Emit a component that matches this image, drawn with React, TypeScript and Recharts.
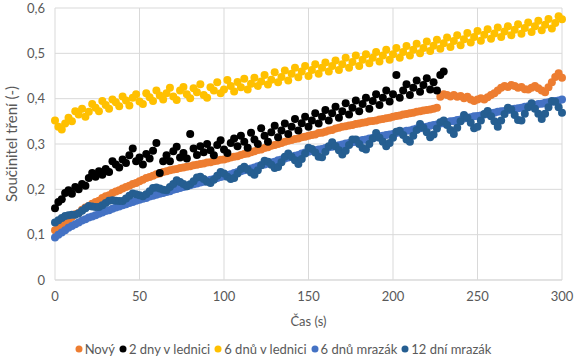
import { ScatterChart, Scatter, XAxis, YAxis, CartesianGrid, Legend } from "recharts";

// sampling times (s)
const time = [
  0, 2, 4, 6, 8, 10, 12, 14, 16, 18, 20, 22, 24, 26, 28, 30, 32, 34, 36, 38,
  40, 42, 44, 46, 48, 50, 52, 54, 56, 58, 60, 62, 64, 66, 68, 70, 72, 74, 76, 78,
  80, 82, 84, 86, 88, 90, 92, 94, 96, 98, 100, 102, 104, 106, 108, 110, 112, 114, 116, 118,
  120, 122, 124, 126, 128, 130, 132, 134, 136, 138, 140, 142, 144, 146, 148, 150, 152, 154, 156, 158,
  160, 162, 164, 166, 168, 170, 172, 174, 176, 178, 180, 182, 184, 186, 188, 190, 192, 194, 196, 198,
  200, 202, 204, 206, 208, 210, 212, 214, 216, 218, 220, 222, 224, 226, 228, 230, 232, 234, 236, 238,
  240, 242, 244, 246, 248, 250, 252, 254, 256, 258, 260, 262, 264, 266, 268, 270, 272, 274, 276, 278,
  280, 282, 284, 286, 288, 290, 292, 294, 296, 298, 300,
];

const novy = [
  0.110, 0.116, 0.122, 0.128, 0.133, 0.139, 0.145, 0.148, 0.155, 0.160, 0.163, 0.168, 0.172, 0.175, 0.181, 0.185, 0.187, 0.192, 0.195, 0.198,
  0.202, 0.205, 0.208, 0.212, 0.214, 0.218, 0.221, 0.225, 0.227, 0.230, 0.233, 0.235, 0.238, 0.240, 0.242, 0.244, 0.245, 0.247, 0.248, 0.250,
  0.251, 0.253, 0.254, 0.256, 0.257, 0.259, 0.260, 0.262, 0.263, 0.265, 0.266, 0.268, 0.270, 0.272, 0.273, 0.276, 0.278, 0.279, 0.282, 0.284,
  0.287, 0.288, 0.291, 0.293, 0.296, 0.298, 0.300, 0.302, 0.305, 0.307, 0.309, 0.311, 0.312, 0.315, 0.316, 0.318, 0.320, 0.321, 0.324, 0.325,
  0.327, 0.330, 0.331, 0.334, 0.336, 0.338, 0.339, 0.341, 0.342, 0.344, 0.345, 0.347, 0.348, 0.350, 0.351, 0.352, 0.354, 0.355, 0.357, 0.358,
  0.360, 0.362, 0.363, 0.365, 0.366, 0.368, 0.369, 0.371, 0.372, 0.374, 0.375, 0.376, 0.378, 0.380, 0.404, 0.410, 0.408, 0.405, 0.408, 0.404,
  0.406, 0.401, 0.404, 0.398, 0.395, 0.398, 0.401, 0.398, 0.403, 0.408, 0.412, 0.418, 0.424, 0.428, 0.426, 0.430, 0.428, 0.424, 0.426, 0.421,
  0.420, 0.424, 0.428, 0.423, 0.418, 0.414, 0.425, 0.436, 0.448, 0.456, 0.446,
];

const dvaDnyLednice = [
  0.158, 0.172, 0.178, 0.192, 0.198, 0.190, 0.205, 0.200, 0.212, 0.208, 0.225, 0.236, 0.228, 0.240, 0.232, 0.245, 0.238, 0.262, 0.255, 0.248,
  0.266, 0.258, 0.275, 0.290, 0.262, 0.270, 0.255, 0.278, 0.268, 0.285, 0.302, 0.236, 0.262, 0.275, 0.262, 0.284, 0.294, 0.270, 0.280, 0.268,
  0.322, 0.290, 0.276, 0.295, 0.282, 0.300, 0.286, 0.275, 0.298, 0.308, 0.288, 0.280, 0.302, 0.312, 0.295, 0.318, 0.305, 0.292, 0.325, 0.310,
  0.300, 0.335, 0.318, 0.305, 0.326, 0.340, 0.315, 0.330, 0.345, 0.322, 0.338, 0.355, 0.330, 0.346, 0.360, 0.338, 0.352, 0.368, 0.345, 0.360,
  0.375, 0.352, 0.368, 0.382, 0.358, 0.372, 0.390, 0.365, 0.380, 0.396, 0.372, 0.388, 0.402, 0.378, 0.395, 0.410, 0.386, 0.402, 0.418, 0.394,
  0.410, 0.452, 0.402, 0.418, 0.432, 0.408, 0.424, 0.440, 0.415, 0.430, 0.445, 0.420, 0.436, 0.418, 0.452, 0.460,
];

const sestDnuLednice = [
  0.352, 0.338, 0.332, 0.345, 0.358, 0.350, 0.372, 0.365, 0.378, 0.360, 0.371, 0.388, 0.380, 0.372, 0.395, 0.386, 0.378, 0.398, 0.392, 0.383,
  0.405, 0.396, 0.385, 0.402, 0.410, 0.394, 0.388, 0.412, 0.403, 0.395, 0.418, 0.407, 0.398, 0.412, 0.424, 0.405, 0.397, 0.418, 0.426, 0.410,
  0.401, 0.423, 0.414, 0.432, 0.408, 0.402, 0.425, 0.418, 0.436, 0.412, 0.420, 0.441, 0.428, 0.416, 0.437, 0.425, 0.444, 0.420, 0.433, 0.446,
  0.428, 0.438, 0.452, 0.431, 0.442, 0.458, 0.436, 0.448, 0.462, 0.440, 0.455, 0.468, 0.447, 0.460, 0.472, 0.450, 0.463, 0.476, 0.455, 0.468,
  0.480, 0.460, 0.472, 0.484, 0.463, 0.476, 0.490, 0.468, 0.481, 0.495, 0.472, 0.486, 0.498, 0.478, 0.490, 0.503, 0.482, 0.495, 0.508, 0.486,
  0.498, 0.512, 0.490, 0.503, 0.516, 0.495, 0.508, 0.521, 0.500, 0.512, 0.526, 0.505, 0.517, 0.530, 0.510, 0.522, 0.535, 0.514, 0.527, 0.540,
  0.518, 0.531, 0.545, 0.524, 0.536, 0.549, 0.528, 0.541, 0.553, 0.532, 0.544, 0.557, 0.536, 0.548, 0.560, 0.540, 0.552, 0.564, 0.543, 0.556,
  0.568, 0.547, 0.560, 0.572, 0.551, 0.563, 0.576, 0.555, 0.567, 0.582, 0.575,
];

const sestDnuMrazak = [
  0.094, 0.100, 0.105, 0.110, 0.115, 0.119, 0.123, 0.127, 0.131, 0.134, 0.138, 0.140, 0.143, 0.146, 0.149, 0.152, 0.154, 0.157, 0.160, 0.162,
  0.165, 0.167, 0.170, 0.172, 0.175, 0.177, 0.179, 0.181, 0.184, 0.186, 0.188, 0.190, 0.192, 0.194, 0.196, 0.199, 0.201, 0.203, 0.205, 0.207,
  0.209, 0.211, 0.213, 0.215, 0.217, 0.219, 0.221, 0.223, 0.225, 0.227, 0.229, 0.231, 0.233, 0.236, 0.238, 0.240, 0.242, 0.244, 0.246, 0.248,
  0.251, 0.253, 0.255, 0.257, 0.259, 0.261, 0.264, 0.266, 0.268, 0.270, 0.272, 0.274, 0.276, 0.279, 0.281, 0.283, 0.285, 0.286, 0.288, 0.289,
  0.291, 0.293, 0.294, 0.296, 0.297, 0.299, 0.301, 0.302, 0.304, 0.305, 0.307, 0.309, 0.310, 0.312, 0.313, 0.315, 0.317, 0.318, 0.320, 0.321,
  0.322, 0.324, 0.326, 0.327, 0.329, 0.330, 0.332, 0.334, 0.335, 0.337, 0.338, 0.340, 0.342, 0.343, 0.345, 0.346, 0.348, 0.350, 0.351, 0.353,
  0.354, 0.356, 0.358, 0.359, 0.361, 0.362, 0.363, 0.365, 0.366, 0.368, 0.369, 0.371, 0.372, 0.373, 0.375, 0.376, 0.378, 0.379, 0.380, 0.382,
  0.383, 0.385, 0.386, 0.388, 0.389, 0.391, 0.392, 0.393, 0.395, 0.396, 0.398,
];

const dvanactDniMrazak = [
  0.127, 0.132, 0.137, 0.141, 0.143, 0.144, 0.144, 0.147, 0.153, 0.158, 0.163, 0.162, 0.161, 0.161, 0.165, 0.170, 0.175, 0.176, 0.175, 0.174,
  0.174, 0.180, 0.186, 0.191, 0.189, 0.187, 0.185, 0.189, 0.196, 0.203, 0.204, 0.202, 0.199, 0.198, 0.205, 0.212, 0.220, 0.216, 0.212, 0.207,
  0.211, 0.218, 0.226, 0.228, 0.223, 0.217, 0.214, 0.221, 0.230, 0.238, 0.235, 0.228, 0.223, 0.225, 0.235, 0.245, 0.250, 0.244, 0.237, 0.232,
  0.242, 0.253, 0.263, 0.261, 0.254, 0.247, 0.249, 0.260, 0.272, 0.279, 0.272, 0.264, 0.256, 0.267, 0.279, 0.292, 0.289, 0.281, 0.272, 0.271,
  0.283, 0.295, 0.304, 0.295, 0.286, 0.277, 0.285, 0.298, 0.310, 0.310, 0.300, 0.291, 0.288, 0.300, 0.312, 0.324, 0.314, 0.305, 0.295, 0.302,
  0.314, 0.327, 0.329, 0.320, 0.310, 0.305, 0.318, 0.331, 0.344, 0.336, 0.326, 0.315, 0.321, 0.334, 0.348, 0.352, 0.342, 0.331, 0.322, 0.336,
  0.350, 0.364, 0.358, 0.347, 0.335, 0.338, 0.352, 0.366, 0.373, 0.361, 0.350, 0.338, 0.352, 0.366, 0.380, 0.376, 0.364, 0.353, 0.352, 0.367,
  0.381, 0.390, 0.378, 0.367, 0.355, 0.367, 0.381, 0.395, 0.393, 0.381, 0.369,
];

const xTicks = [0, 50, 100, 150, 200, 250, 300];
const yTicks = [0, 0.1, 0.2, 0.3, 0.4, 0.5, 0.6];

const series = [
  { name: "Nový", values: novy, color: "#ED7D31" },
  { name: "2 dny v lednici", values: dvaDnyLednice, color: "#000000" },
  { name: "6 dnů v lednici", values: sestDnuLednice, color: "#FFC000" },
  { name: "6 dnů mrazák", values: sestDnuMrazak, color: "#4472C4" },
  { name: "12 dní mrazák", values: dvanactDniMrazak, color: "#255E91" },
];

const font = 'Lato, "Liberation Sans", sans-serif';
const tickStyle = { fontSize: 13, fill: "#595959", fontFamily: font };

const fmt = (v: number) => (v === 0 ? "0" : v.toFixed(1).replace(".", ","));

function LegendRow() {
  return (
    <div
      style={{
        height: 20,
        display: "flex",
        justifyContent: "center",
        alignItems: "center",
        fontFamily: font,
        fontSize: 13,
        color: "#595959",
      }}
    >
      {series.map((s) => (
        <span key={s.name} style={{ display: "inline-flex", alignItems: "center", marginRight: 4 }}>
          <svg width={8} height={8} style={{ marginRight: 2 }}>
            <circle cx={4} cy={4} r={3.5} fill={s.color} />
          </svg>
          {s.name}
        </span>
      ))}
    </div>
  );
}

export default function App() {
  return (
    <div style={{ position: "absolute", left: 0, top: 0, background: "#fff" }}>
      <ScatterChart width={577} height={363} margin={{ top: 8, right: 15, left: 8, bottom: 4 }}>
        <CartesianGrid stroke="#D9D9D9" />
        <XAxis
          type="number"
          dataKey="x"
          domain={[0, 300]}
          ticks={xTicks}
          tick={tickStyle}
          tickLine={false}
          tickMargin={6}
          axisLine={{ stroke: "#D9D9D9" }}
          height={59}
          label={{ value: "Čas (s)", position: "insideBottom", offset: 13, style: { ...tickStyle } }}
        />
        <YAxis
          type="number"
          dataKey="y"
          domain={[0, 0.6]}
          ticks={yTicks}
          tickFormatter={fmt}
          tick={tickStyle}
          tickLine={false}
          tickMargin={4}
          axisLine={false}
          width={47}
          label={{
            value: "Součinitel tření (-)",
            angle: -90,
            position: "insideLeft",
            offset: 4,
            style: { ...tickStyle, fontSize: 15, textAnchor: "middle" },
          }}
        />
        <Legend verticalAlign="bottom" content={() => <LegendRow />} />
        {series.map((s) => (
          <Scatter
            key={s.name}
            name={s.name}
            data={s.values.map((v, i) => ({ x: time[i], y: v }))}
            fill={s.color}
            isAnimationActive={false}
            shape={(p: any) => <circle cx={p.cx} cy={p.cy} r={4} fill={s.color} />}
          />
        ))}
      </ScatterChart>
    </div>
  );
}
